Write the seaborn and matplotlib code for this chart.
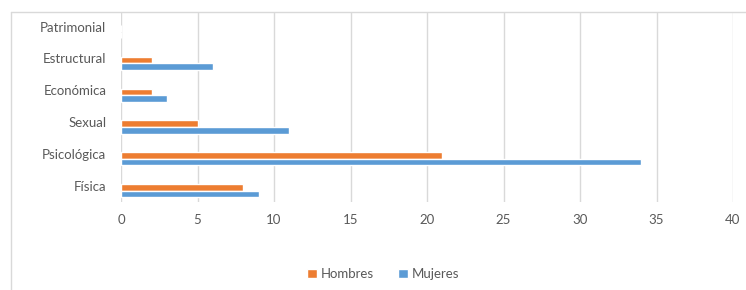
import matplotlib
matplotlib.use("Agg")
import matplotlib.pyplot as plt
from matplotlib.lines import Line2D
from matplotlib.transforms import ScaledTranslation
import pandas as pd
import seaborn as sns

# datos
categorias = ["Patrimonial", "Estructural", "Económica", "Sexual", "Psicológica", "Física"]
hombres = [0, 2, 2, 5, 21, 8]
mujeres = [0, 6, 3, 11, 34, 9]
grupos = ["Hombres", "Mujeres"]
colores = ["#ED7D31", "#5B9BD5"]

df = pd.DataFrame({
    "tipo": categorias * 2,
    "valor": hombres + mujeres,
    "sexo": [grupos[0]] * len(categorias) + [grupos[1]] * len(categorias),
})

sns.set_theme(style="white")
plt.rcParams["font.family"] = ["Lato", "DejaVu Sans"]

fig = plt.figure(figsize=(7.46, 2.9), dpi=100)
ax = fig.add_axes([121 / 746, 1 - 202 / 290, (733 - 121) / 746, (202 - 12) / 290])

sns.barplot(data=df, x="valor", y="tipo", hue="sexo", order=categorias,
            hue_order=grupos, palette=colores, width=0.42, ax=ax,
            saturation=1, legend=True)

ax.set_xlim(0, 40)
ax.set_ylim(5.36, -0.62)
ax.set_xticks(range(0, 41, 5))
ax.set_xlabel("")
ax.set_ylabel("")
ax.grid(axis="x", color="#d9d9d9", linewidth=1)
ax.set_axisbelow(True)
for s in ax.spines.values():
    s.set_visible(False)
ax.tick_params(axis="both", length=0, labelsize=9.5, labelcolor="#595959")
ax.tick_params(axis="x", pad=9)
ax.tick_params(axis="y", pad=10.5)

# las etiquetas de categoria quedan un poco por encima de las barras
subir = ScaledTranslation(0, 5 / 100, fig.dpi_scale_trans)
for lbl in ax.get_yticklabels():
    lbl.set_transform(lbl.get_transform() + subir)

leg = ax.legend(loc="center", bbox_to_anchor=(383 / 746, 1 - 274 / 290),
                bbox_transform=fig.transFigure, ncol=2, frameon=False,
                fontsize=9.5, handlelength=0.75, handleheight=0.75,
                handletextpad=0.3, columnspacing=1.8)
for t in leg.get_texts():
    t.set_color("#595959")

# marco del area del grafico
fig.add_artist(Line2D([11 / 746, 11 / 746], [0, 1 - 12 / 290],
                      transform=fig.transFigure, color="#d9d9d9", linewidth=1))
fig.add_artist(Line2D([11 / 746, 1], [1 - 12 / 290, 1 - 12 / 290],
                      transform=fig.transFigure, color="#d9d9d9", linewidth=1))

fig.savefig("out.png", dpi=100)
